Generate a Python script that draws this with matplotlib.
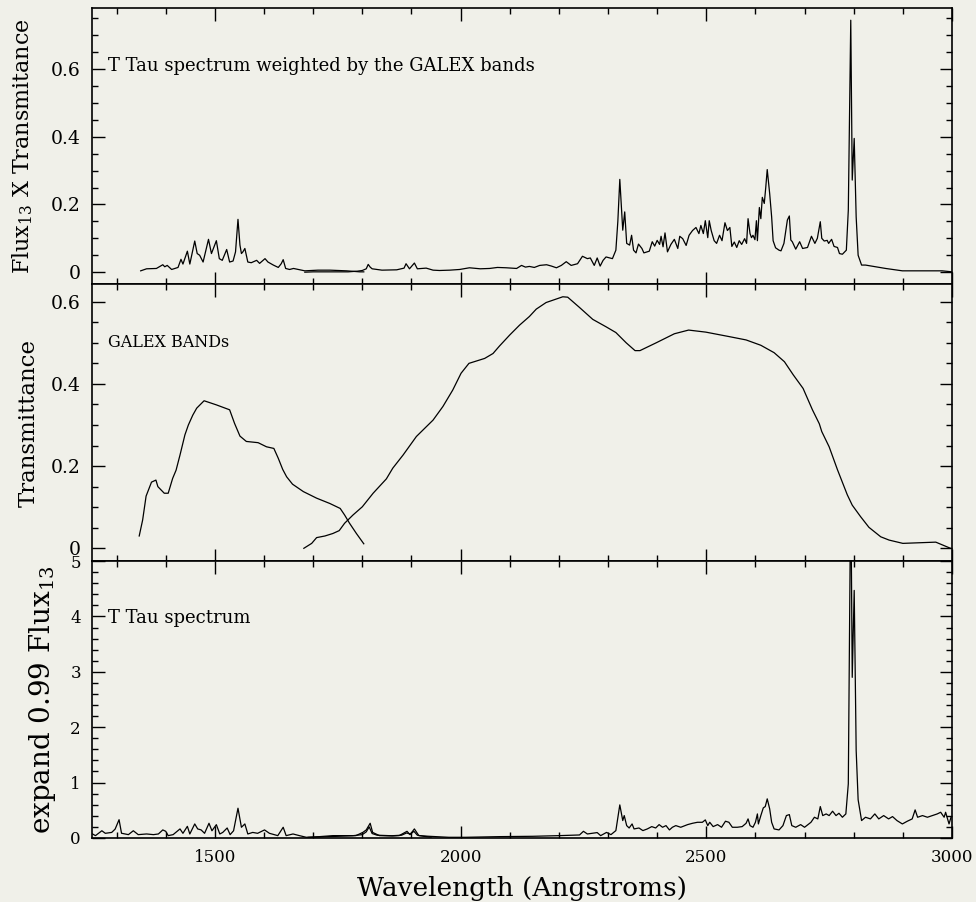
import matplotlib
matplotlib.use('Agg')
import matplotlib.pyplot as plt
from matplotlib.ticker import MultipleLocator, FuncFormatter

# ---- data ----
# top panel: spectrum weighted by the FUV / NUV bands
fuv_prod_wave = [1349, 1361, 1381, 1394, 1398, 1403, 1412, 1425, 1431, 1435, 1444, 1449,
                 1459, 1464, 1469, 1476, 1487, 1493, 1503, 1509, 1515, 1524, 1530, 1537,
                 1542, 1547, 1551, 1554, 1557, 1561, 1567, 1574, 1585, 1591, 1602, 1608,
                 1619, 1629, 1635, 1639, 1644, 1652, 1660, 1683, 1710, 1734, 1768, 1795, 1803]
fuv_prod = [0.004, 0.010, 0.011, 0.022, 0.016, 0.020, 0.008, 0.014, 0.038, 0.024, 0.062, 0.024,
            0.092, 0.055, 0.050, 0.030, 0.097, 0.055, 0.093, 0.040, 0.035, 0.067, 0.030, 0.033,
            0.060, 0.156, 0.080, 0.055, 0.060, 0.070, 0.030, 0.028, 0.035, 0.026, 0.040, 0.030,
            0.021, 0.014, 0.025, 0.037, 0.011, 0.008, 0.011, 0.004, 0.006, 0.006, 0.004, 0.001, 0.001]

nuv_prod_wave = [1683, 1700, 1730, 1771, 1790, 1800, 1808, 1812, 1816, 1820, 1840, 1870,
                 1885, 1889, 1896, 1906, 1912, 1930, 1944, 1957, 1978, 1998, 2018, 2040,
                 2059, 2075, 2093, 2114, 2124, 2132, 2140, 2150, 2161, 2175, 2185, 2195,
                 2205, 2215, 2225, 2238, 2248, 2258, 2264, 2272, 2278, 2284, 2290, 2296,
                 2309, 2316, 2320, 2324, 2330, 2334, 2338, 2344, 2348, 2352, 2357, 2362,
                 2369, 2373, 2384, 2390, 2395, 2400, 2405, 2408, 2412, 2416, 2421, 2428,
                 2435, 2442, 2446, 2452, 2459, 2465, 2472, 2479, 2485, 2489, 2494, 2498,
                 2503, 2506, 2510, 2516, 2521, 2527, 2532, 2538, 2543, 2548, 2552, 2557,
                 2562, 2567, 2572, 2578, 2582, 2585, 2589, 2592, 2595, 2599, 2602, 2604,
                 2608, 2611, 2614, 2618, 2621, 2624, 2629, 2633, 2636, 2641, 2648, 2652,
                 2658, 2665, 2669, 2672, 2675, 2682, 2690, 2696, 2706, 2714, 2721, 2726,
                 2732, 2735, 2740, 2746, 2749, 2755, 2760, 2767, 2771, 2777, 2785, 2789,
                 2794, 2797, 2801, 2805, 2809, 2816, 2824, 2845, 2865, 2899, 2950, 2980, 3000]
nuv_prod = [0.000, 0.001, 0.001, 0.001, 0.003, 0.005, 0.010, 0.023, 0.015, 0.010, 0.006, 0.007,
            0.012, 0.025, 0.010, 0.027, 0.010, 0.012, 0.006, 0.005, 0.006, 0.008, 0.013, 0.010,
            0.011, 0.014, 0.013, 0.011, 0.020, 0.015, 0.017, 0.014, 0.020, 0.022, 0.018, 0.013,
            0.020, 0.031, 0.020, 0.025, 0.047, 0.040, 0.042, 0.020, 0.042, 0.018, 0.035, 0.045,
            0.040, 0.065, 0.150, 0.274, 0.124, 0.178, 0.085, 0.080, 0.109, 0.065, 0.057, 0.083,
            0.070, 0.057, 0.062, 0.090, 0.077, 0.094, 0.082, 0.106, 0.075, 0.116, 0.060, 0.082,
            0.097, 0.070, 0.106, 0.099, 0.079, 0.109, 0.123, 0.132, 0.114, 0.138, 0.114, 0.152,
            0.102, 0.152, 0.123, 0.093, 0.085, 0.109, 0.093, 0.146, 0.123, 0.132, 0.076, 0.089,
            0.073, 0.093, 0.082, 0.099, 0.085, 0.158, 0.114, 0.102, 0.109, 0.096, 0.152, 0.093,
            0.191, 0.158, 0.221, 0.203, 0.250, 0.303, 0.232, 0.163, 0.093, 0.072, 0.065, 0.063,
            0.085, 0.154, 0.166, 0.095, 0.090, 0.068, 0.090, 0.070, 0.073, 0.106, 0.085, 0.100,
            0.149, 0.100, 0.092, 0.094, 0.085, 0.097, 0.076, 0.073, 0.055, 0.053, 0.065, 0.183,
            0.744, 0.272, 0.395, 0.163, 0.050, 0.021, 0.021, 0.016, 0.011, 0.004, 0.004, 0.004, 0.001]

# middle panel: GALEX band transmittance
fuv_band_wave = [1346, 1353, 1360, 1371, 1380, 1384, 1397, 1405, 1414, 1421, 1429, 1439,
                 1446, 1455, 1463, 1478, 1503, 1530, 1540, 1551, 1564, 1588, 1605, 1620,
                 1629, 1638, 1646, 1658, 1680, 1707, 1734, 1755, 1764, 1774, 1788, 1803]
fuv_band = [0.030, 0.069, 0.127, 0.161, 0.166, 0.150, 0.134, 0.134, 0.170, 0.190, 0.227, 0.276,
            0.300, 0.324, 0.341, 0.359, 0.349, 0.337, 0.304, 0.273, 0.260, 0.257, 0.247, 0.243,
            0.219, 0.192, 0.174, 0.156, 0.138, 0.122, 0.109, 0.097, 0.081, 0.061, 0.036, 0.011]

nuv_band_wave = [1681, 1697, 1707, 1724, 1740, 1753, 1764, 1781, 1800, 1822, 1849, 1862,
                 1883, 1910, 1944, 1964, 1984, 2001, 2017, 2049, 2066, 2079, 2100, 2120,
                 2140, 2154, 2174, 2208, 2218, 2242, 2269, 2296, 2316, 2337, 2355, 2365,
                 2398, 2435, 2464, 2499, 2547, 2581, 2611, 2638, 2659, 2677, 2697, 2716,
                 2730, 2735, 2750, 2767, 2787, 2797, 2814, 2831, 2855, 2872, 2900, 2967, 2997]
nuv_band = [0.000, 0.012, 0.026, 0.030, 0.036, 0.043, 0.061, 0.081, 0.101, 0.134, 0.169, 0.195,
            0.227, 0.272, 0.312, 0.345, 0.385, 0.426, 0.450, 0.462, 0.474, 0.492, 0.519, 0.543,
            0.564, 0.582, 0.598, 0.612, 0.611, 0.586, 0.557, 0.539, 0.525, 0.500, 0.481, 0.481,
            0.500, 0.522, 0.531, 0.526, 0.515, 0.507, 0.494, 0.476, 0.454, 0.422, 0.389, 0.337,
            0.303, 0.284, 0.247, 0.191, 0.130, 0.105, 0.077, 0.051, 0.028, 0.020, 0.012, 0.015, 0.000]

# bottom panel: T Tau spectrum (two overlapping pieces)
spec_wave = [1251, 1257, 1270, 1277, 1290, 1297, 1305, 1310, 1324, 1334, 1344, 1361,
             1375, 1385, 1394, 1400, 1405, 1415, 1429, 1435, 1444, 1449, 1459, 1465,
             1472, 1479, 1488, 1494, 1503, 1510, 1516, 1525, 1531, 1538, 1547, 1554,
             1561, 1567, 1577, 1587, 1601, 1611, 1628, 1639, 1645, 1659, 1672, 1686,
             1713, 1740, 1767, 1787, 1801, 1808, 1816, 1821, 1835, 1862, 1875, 1891,
             1897, 1906, 1915, 1936, 1976, 2010, 2079, 2147, 2201, 2242, 2250, 2258,
             2268, 2278, 2285, 2297, 2306, 2316, 2324, 2330, 2333, 2338, 2343, 2349,
             2353, 2363, 2371, 2380, 2389, 2397, 2404, 2411, 2418, 2425, 2431, 2438,
             2448, 2462, 2472, 2482, 2492, 2498, 2503, 2507, 2514, 2523, 2531, 2539,
             2546, 2553, 2563, 2573, 2581, 2585, 2589, 2595, 2600, 2604, 2606, 2611,
             2616, 2620, 2624, 2629, 2633, 2638, 2648, 2656, 2663, 2669, 2674, 2682,
             2692, 2700, 2713, 2720, 2727, 2732, 2737, 2744, 2750, 2757, 2764, 2770,
             2777, 2784, 2789, 2794, 2797, 2801, 2805, 2809, 2816, 2824, 2834, 2843,
             2851, 2861, 2871, 2879, 2888, 2899, 2909, 2919, 2925, 2930, 2940, 2950,
             2960, 2970, 2977, 2984, 2987, 2994, 2998]
spec_flux = [0.072, 0.042, 0.130, 0.084, 0.100, 0.160, 0.330, 0.085, 0.060, 0.130, 0.060, 0.072,
             0.060, 0.072, 0.145, 0.120, 0.042, 0.060, 0.163, 0.084, 0.210, 0.072, 0.253, 0.163,
             0.145, 0.084, 0.265, 0.130, 0.240, 0.072, 0.100, 0.180, 0.060, 0.130, 0.537, 0.193,
             0.253, 0.072, 0.100, 0.084, 0.145, 0.084, 0.042, 0.193, 0.042, 0.072, 0.042, 0.012,
             0.024, 0.042, 0.042, 0.042, 0.100, 0.145, 0.265, 0.100, 0.042, 0.036, 0.042, 0.120,
             0.060, 0.163, 0.042, 0.030, 0.012, 0.012, 0.024, 0.030, 0.042, 0.054, 0.120, 0.072,
             0.084, 0.097, 0.042, 0.100, 0.060, 0.133, 0.597, 0.314, 0.404, 0.223, 0.180, 0.253,
             0.163, 0.180, 0.133, 0.163, 0.205, 0.180, 0.241, 0.193, 0.223, 0.145, 0.193, 0.223,
             0.193, 0.241, 0.265, 0.283, 0.283, 0.326, 0.223, 0.283, 0.205, 0.241, 0.193, 0.302,
             0.283, 0.193, 0.193, 0.205, 0.265, 0.344, 0.223, 0.193, 0.283, 0.434, 0.253, 0.404,
             0.543, 0.567, 0.706, 0.525, 0.283, 0.163, 0.145, 0.223, 0.404, 0.422, 0.223, 0.193,
             0.241, 0.193, 0.283, 0.374, 0.344, 0.567, 0.404, 0.434, 0.404, 0.483, 0.404, 0.446,
             0.374, 0.434, 0.977, 6.500, 2.900, 4.470, 1.580, 0.690, 0.314, 0.374, 0.344, 0.434,
             0.344, 0.404, 0.344, 0.386, 0.314, 0.253, 0.302, 0.344, 0.507, 0.374, 0.404, 0.374,
             0.404, 0.434, 0.464, 0.374, 0.464, 0.253, 0.374]

spec2_wave = [1690, 1720, 1750, 1780, 1800, 1808, 1814, 1820, 1830, 1860, 1880, 1890,
              1898, 1905, 1912, 1925, 1940]
spec2_flux = [0.010, 0.020, 0.030, 0.040, 0.060, 0.110, 0.200, 0.080, 0.050, 0.040, 0.050, 0.090,
              0.070, 0.120, 0.050, 0.030, 0.015]

bg = '#f0f0e9'
plt.rcParams['font.family'] = ['DejaVu Serif']
plt.rcParams['mathtext.fontset'] = 'dejavuserif'

fig = plt.figure(figsize=(9.76, 9.02), dpi=100, facecolor=bg)
left, width = 0.0943, 0.8811
ax1 = fig.add_axes([left, 0.6851, width, 0.3060])
ax2 = fig.add_axes([left, 0.3780, width, 0.3071])
ax3 = fig.add_axes([left, 0.0710, width, 0.3070])

lw = 0.9
ax1.plot(fuv_prod_wave, fuv_prod, color='black', lw=lw)
ax1.plot(nuv_prod_wave, nuv_prod, color='black', lw=lw)
ax2.plot(fuv_band_wave, fuv_band, color='black', lw=lw)
ax2.plot(nuv_band_wave, nuv_band, color='black', lw=lw)
ax3.plot(spec_wave, spec_flux, color='black', lw=lw)
ax3.plot(spec2_wave, spec2_flux, color='black', lw=lw)

ax1.set_ylim(-0.035, 0.78)
ax2.set_ylim(-0.031, 0.643)
ax3.set_ylim(0, 5)

def fmt(v, pos):
    if abs(v) < 1e-9:
        return '0'
    return '%g' % v

for ax in (ax1, ax2, ax3):
    ax.set_facecolor(bg)
    ax.set_xlim(1250, 3000)
    ax.xaxis.set_major_locator(MultipleLocator(500))
    ax.xaxis.set_minor_locator(MultipleLocator(100))
    ax.tick_params(which='both', direction='in', top=True, right=True, width=1.0,
                   labelsize=12, pad=8)
    ax.tick_params(which='major', length=9)
    ax.tick_params(which='minor', length=4.5)
    ax.yaxis.set_major_formatter(FuncFormatter(fmt))
    for s in ax.spines.values():
        s.set_linewidth(1.2)

for ax in (ax1, ax2):
    ax.yaxis.set_major_locator(MultipleLocator(0.2))
    ax.yaxis.set_minor_locator(MultipleLocator(0.05))
    ax.tick_params(axis='y', labelsize=13.5)
    ax.tick_params(labelbottom=False)

ax3.yaxis.set_major_locator(MultipleLocator(1))
ax3.yaxis.set_minor_locator(MultipleLocator(0.2))
ax3.set_xticks([1500, 2000, 2500, 3000])

ax1.set_ylabel(r'Flux$_{13}$ X Transmitance', fontsize=16)
ax2.set_ylabel('Transmittance', fontsize=16.5)
ax3.set_ylabel(r'expand 0.99 Flux$_{13}$', fontsize=20)
ax3.set_xlabel('Wavelength (Angstroms)', fontsize=19, labelpad=7)
ax1.yaxis.set_label_coords(-0.066, 0.5)
ax2.yaxis.set_label_coords(-0.061, 0.5)
ax3.yaxis.set_label_coords(-0.039, 0.5)

ax1.text(0.018, 0.79, 'T Tau spectrum weighted by the GALEX bands', transform=ax1.transAxes,
         fontsize=13, va='center')
ax2.text(0.018, 0.79, 'GALEX BANDs', transform=ax2.transAxes, fontsize=11.5, va='center')
ax3.text(0.018, 0.795, 'T Tau spectrum', transform=ax3.transAxes, fontsize=13, va='center')

fig.savefig('out.png', dpi=100, facecolor=bg)
